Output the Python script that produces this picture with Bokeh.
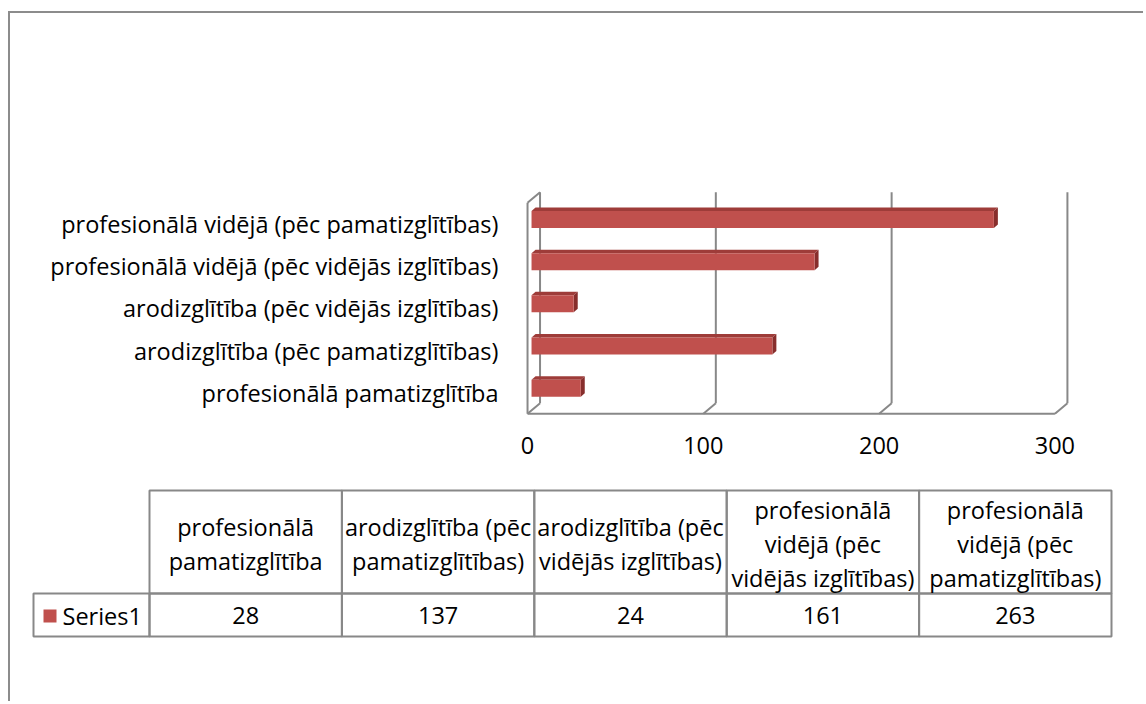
from bokeh.plotting import figure
from bokeh.models import Range1d, FixedTicker
from bokeh.embed import file_html
from bokeh.resources import INLINE
from bokeh.core.properties import value

# ---------------- data ----------------
categories = [
    "profesionālā pamatizglītība",
    "arodizglītība (pēc pamatizglītības)",
    "arodizglītība (pēc vidējās izglītības)",
    "profesionālā vidējā (pēc vidējās izglītības)",
    "profesionālā vidējā (pēc pamatizglītības)",
]
series_name = "Series1"
series_values = [28, 137, 24, 161, 263]
value_ticks = [0, 100, 200, 300]
header_lines = [
    ["profesionālā", "pamatizglītība"],
    ["arodizglītība (pēc", "pamatizglītības)"],
    ["arodizglītība (pēc", "vidējās izglītības)"],
    ["profesionālā", "vidējā (pēc", "vidējās izglītības)"],
    ["profesionālā", "vidējā (pēc", "pamatizglītības)"],
]

# ---------------- style ----------------
FONT = "Open Sans"
FSIZE = "23.5px"
TXT = "#000000"
GRID = "#888888"
BORDER = "2px solid #8c8c8c"
BAR_FRONT = "#C0504D"
BAR_TOP = "#9E3C39"
BAR_SIDE = "#872E2C"

W = 1135

# ---------------- chart ----------------
HA = 462
XS, XE = -4, 310
YS, YE = -0.8, 5.1
FL, FW, FT, FH = 510, 552, 164, 249
ux = (XE - XS) / FW          # data units per pixel (x)
uy = (YE - YS) / FH          # data units per pixel (y)

pA = figure(width=W, height=HA, title=None,
            x_range=Range1d(XS, XE), y_range=Range1d(YS, YE),
            output_backend="svg", toolbar_location=None,
            min_border_left=FL, min_border_right=W - FL - FW,
            min_border_top=FT, min_border_bottom=HA - FT - FH)
pA.grid.visible = False
pA.outline_line_color = None
pA.styles = {"border-left": BORDER, "border-top": BORDER,
             "margin-left": "8px", "margin-top": "11px"}

n = len(categories)
ylo, yhi = -0.5, n - 0.5
BX, BY = 12.5 * ux, 10.5 * uy

xs, ys = [], []
xs.append([0, 0]); ys.append([ylo, yhi])                    # front-left edge
xs.append([0, BX]); ys.append([yhi, yhi + BY])              # top diagonal
xs.append([0, BX]); ys.append([ylo, ylo + BY])              # bottom diagonal
xs.append([0, value_ticks[-1]]); ys.append([ylo, ylo])      # floor front edge
for t in value_ticks:
    xs.append([t + BX, t + BX]); ys.append([ylo + BY, yhi + BY])
    if t > 0:
        xs.append([t, t + BX]); ys.append([ylo, ylo + BY])
pA.multi_line(xs, ys, line_color=GRID, line_width=2)

# bars (front face + top + side for 3D look)
ox, oy = 4 * ux, 4.5 * uy
hh = 8.5 * uy
dx, dy = 4 * ux, 3.5 * uy
idx = list(range(n))
left = [ox] * n
right = [v + ox for v in series_values]
bottom = [i + oy - hh for i in idx]
top = [i + oy + hh for i in idx]
top_xs = [[l, r, r + dx, l + dx] for l, r in zip(left, right)]
top_ys = [[t, t, t + dy, t + dy] for t in top]
side_xs = [[r, r, r + dx, r + dx] for r in right]
side_ys = [[b, t, t + dy, b + dy] for b, t in zip(bottom, top)]
pA.patches(top_xs, top_ys, fill_color=BAR_TOP, line_color=None)
pA.patches(side_xs, side_ys, fill_color=BAR_SIDE, line_color=None)
pA.quad(left=left, right=right, bottom=bottom, top=top,
        fill_color=BAR_FRONT, line_color=None)

pA.xaxis.ticker = FixedTicker(ticks=value_ticks)
pA.yaxis.ticker = FixedTicker(ticks=idx)
pA.yaxis.major_label_overrides = {i: c for i, c in zip(idx, categories)}
for ax in (pA.xaxis[0], pA.yaxis[0]):
    ax.axis_line_color = None
    ax.major_tick_line_color = None
    ax.minor_tick_line_color = None
    ax.major_tick_out = 0
    ax.major_tick_in = 0
    ax.major_label_text_font = FONT
    ax.major_label_text_font_size = FSIZE
    ax.major_label_text_color = TXT
pA.xaxis.major_label_standoff = 10
pA.yaxis.major_label_standoff = 22

# ---------------- data table ----------------
HB = 228
COLW = 192.4
C0 = 139
XSB = -C0 / COLW
XEB = XSB + W / COLW
pB = figure(width=W, height=HB, title=None,
            x_range=Range1d(XSB, XEB), y_range=Range1d(HB, 0),
            output_backend="svg", toolbar_location=None,
            x_axis_type=None, y_axis_type=None, min_border=0)
pB.grid.visible = False
pB.outline_line_color = None
pB.styles = {"border-left": BORDER, "margin-left": "8px"}

T0, T1, T2 = 17, 120, 163
leg_left = -(C0 - 23) / COLW
pB.quad(left=idx, right=[i + 1 for i in idx], top=[T0] * n, bottom=[T1] * n,
        fill_color=None, line_color=GRID, line_width=2)
pB.quad(left=[leg_left] + idx, right=[0] + [i + 1 for i in idx],
        top=[T1] * (n + 1), bottom=[T2] * (n + 1),
        fill_color=None, line_color=GRID, line_width=2)

LS = 34
hx, hy, ht = [], [], []
for i, lines in enumerate(header_lines):
    m = len(lines)
    for k, s in enumerate(lines):
        hx.append(i + 0.5)
        hy.append((T0 + T1) / 2 + 1.5 + (k - (m - 1) / 2) * LS)
        ht.append(s)
pB.text(x=hx, y=hy, text=ht, text_align="center", text_baseline="middle",
        text_font=value(FONT), text_font_size=FSIZE, text_color=TXT)
pB.text(x=[i + 0.5 for i in idx], y=[(T1 + T2) / 2 + 0.5] * n,
        text=[str(v) for v in series_values],
        text_align="center", text_baseline="middle",
        text_font=value(FONT), text_font_size=FSIZE, text_color=TXT)
pB.scatter(x=[(39.5 - C0) / COLW], y=[(T1 + T2) / 2 + 1], marker="square",
           size=13, fill_color=BAR_FRONT, line_color=None)
pB.text(x=[(52 - C0) / COLW], y=[(T1 + T2) / 2 + 0.5], text=[series_name],
        text_align="left", text_baseline="middle",
        text_font=value(FONT), text_font_size=FSIZE, text_color=TXT)

open("out.html", "w").write(file_html([pA, pB], INLINE))
